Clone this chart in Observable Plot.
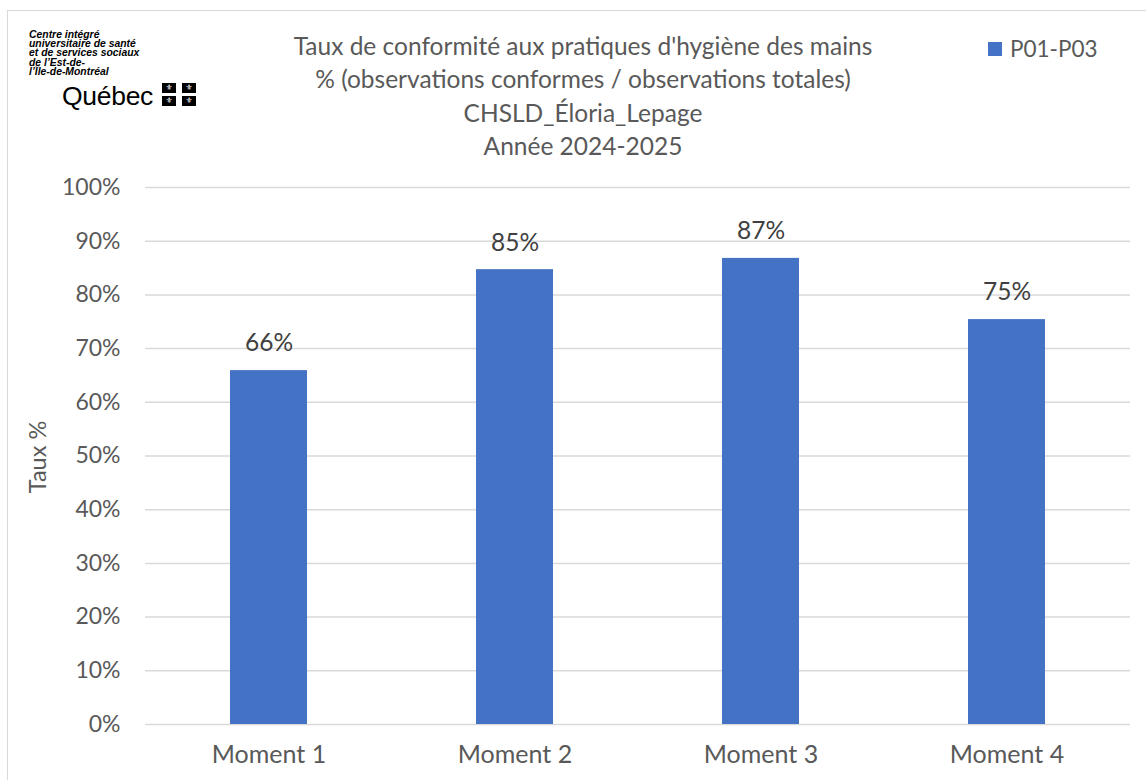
<!DOCTYPE html>
<html>
<head>
<meta charset="utf-8">
<script src="https://cdn.jsdelivr.net/npm/d3@7"></script>
<script src="https://cdn.jsdelivr.net/npm/@observablehq/plot@0.6"></script>
<style>
  html, body { margin: 0; padding: 0; background: #ffffff; }
  #wrap { position: relative; width: 1146px; height: 780px; overflow: hidden; font-family: Lato, "Open Sans", sans-serif; color: #595959; }
  #frame { position: absolute; left: 7px; top: 10px; width: 1160px; height: 800px; border: 1px solid #d9d9d9; box-sizing: border-box; }
  #header { position: relative; height: 170px; }
  #title { position: absolute; left: 233px; width: 700px; top: 29px; text-align: center; font-size: 24.5px; line-height: 33.3px; color: #595959; }
  #legend { position: absolute; left: 988px; top: 35px; font-size: 22.5px; color: #595959; display: flex; align-items: center; }
  #legend .sw { width: 14px; height: 14px; background: #4472C4; margin-right: 8px; }
  #ylabel { position: absolute; left: 37px; top: 457px; transform: translate(-50%, -50%) rotate(-90deg); font-size: 23.5px; color: #595959; white-space: nowrap; }
  #logo { position: absolute; left: 29px; top: 30px; }
  #logo .org { font-family: "Liberation Sans", Arial, sans-serif; font-weight: bold; font-style: italic; font-size: 10.4px; line-height: 9.2px; color: #000; }
  #logo .qc { position: absolute; left: 33px; top: 51px; font-family: "Liberation Sans", Arial, sans-serif; font-size: 26.5px; color: #000; letter-spacing: -0.3px; }
  #logo .flags { position: absolute; left: 133px; top: 53px; width: 35px; height: 23px; }
  #logo .flags div { position: absolute; width: 14px; height: 10px; background: #000; color: #fff; font-size: 8px; line-height: 10px; text-align: center; font-family: "DejaVu Sans", sans-serif; }
</style>
</head>
<body>
<div id="wrap">
  <div id="frame"></div>
  <div id="header">
    <div id="logo">
      <div class="org">Centre intégré<br>universitaire de santé<br>et de services sociaux<br>de l’Est-de-<br>l’Île-de-Montréal</div>
      <div class="qc">Québec</div>
      <div class="flags">
        <div style="left:0;top:0">⚜</div><div style="left:20px;top:0">⚜</div>
        <div style="left:0;top:13px">⚜</div><div style="left:20px;top:13px">⚜</div>
      </div>
    </div>
    <div id="title">Taux de conformité aux pratiques d'hygiène des mains<br>% (observations conformes / observations totales)<br>CHSLD_Éloria_Lepage<br>Année 2024-2025</div>
    <div id="legend"><div class="sw"></div><span>P01-P03</span></div>
  </div>
  <div id="ylabel">Taux %</div>
  <div id="chart"></div>
</div>
<script>
const categories = ["Moment 1", "Moment 2", "Moment 3", "Moment 4"];
const values = [0.659, 0.847, 0.868, 0.754];
const yTicks = [0, 0.1, 0.2, 0.3, 0.4, 0.5, 0.6, 0.7, 0.8, 0.9, 1.0];
const seriesName = "P01-P03";

const data = categories.map((c, i) => ({ cat: c, value: values[i], series: seriesName }));
const pct = d3.format(".0%");

const chart = Plot.plot({
  width: 1146,
  height: 610,
  marginTop: 17,
  marginBottom: 56,
  marginLeft: 145,
  marginRight: 16,
  style: { fontFamily: "Lato, 'Open Sans', sans-serif", fontSize: "22px", color: "#595959", background: "transparent", overflow: "visible" },
  x: { domain: categories, paddingInner: 0.687, paddingOuter: 0.3435, label: null },
  y: { domain: [0, 1], label: null },
  marks: [
    Plot.gridY(yTicks, { stroke: "#d9d9d9", strokeOpacity: 1, strokeWidth: 1.5 }),
    Plot.barY(data, { x: "cat", y: "value", fill: "#4472C4" }),
    Plot.text(data, { x: "cat", y: "value", text: d => pct(d.value), dy: -27, fill: "#404040", fontSize: 24.5 }),
    Plot.axisY({ ticks: yTicks, tickFormat: pct, tickSize: 0, tickPadding: 25, label: null, fill: "#595959", fontSize: 23 }),
    Plot.axisX({ tickSize: 0, tickPadding: 21, label: null, fill: "#595959", fontSize: 25 })
  ]
});
document.getElementById("chart").appendChild(chart);
</script>
</body>
</html>
